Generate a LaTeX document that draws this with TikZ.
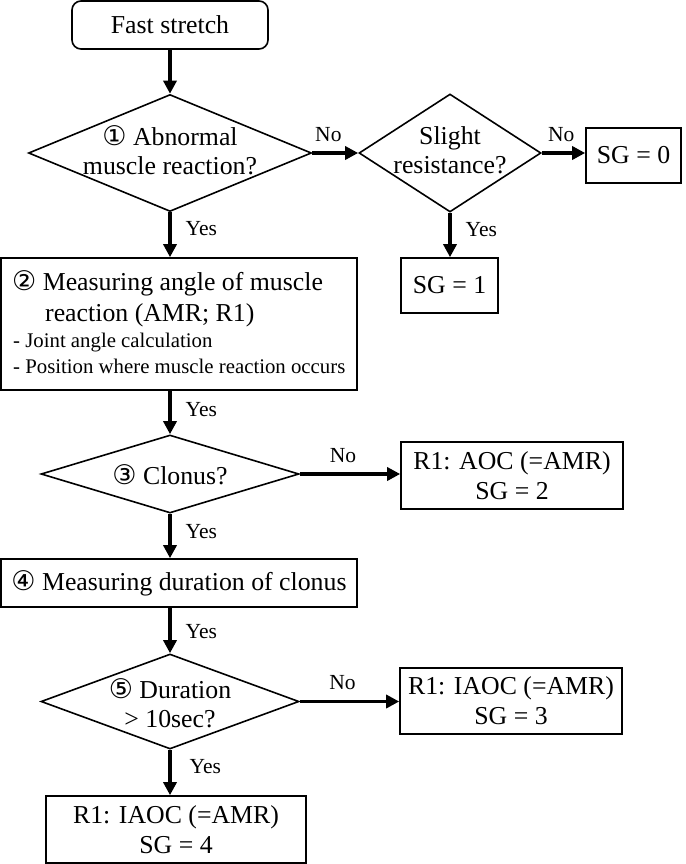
\documentclass[tikz,border=0pt]{standalone}
\usepackage{fontspec}
\setmainfont{Liberation Serif}
\newfontfamily\circf{DejaVu Sans}
\usetikzlibrary{shapes.geometric,arrows.meta}
\begin{document}
\begin{tikzpicture}[x=1pt,y=-1pt,
 box/.style={draw, line width=1.6pt, inner sep=0pt, font=\fontsize{25.8}{30}\selectfont, align=center},
 dia/.style={draw, diamond, line width=1.6pt, inner sep=0pt},
 txt/.style={inner sep=0pt, font=\fontsize{25.8}{28.5}\selectfont, align=center},
 bul/.style={inner sep=0pt, font=\fontsize{20.8}{24}\selectfont},
 arr/.style={line width=3.4pt, -{Triangle[length=13pt,width=13pt]}},
 lab/.style={inner sep=0pt, font=\fontsize{21.5}{24}\selectfont},
 yeslab/.style={lab, anchor=west, xshift=14pt},
 nolab/.style={lab, anchor=south, yshift=10pt}]
\useasboundingbox (0,0) rectangle (685,864);
\newcommand{\cn}[1]{{\circf\fontsize{27}{28}\selectfont #1}}
% nodes
\node[box, rounded corners=9pt, minimum width=196pt, minimum height=48pt] (fs) at (170,25) {Fast stretch};
\node[dia, minimum width=283pt, minimum height=117pt] (d1) at (170,153) {};
\node[txt] (d1t) at (170,150) {\cn{①} Abnormal\\muscle reaction?};
\node[dia, minimum width=182pt, minimum height=118pt] (d2) at (450,153) {};
\node[txt] (d2t) at (450,150) {Slight\\resistance?};
\node[box, minimum width=95pt, minimum height=55pt] (sg0) at (633.5,155.5) {SG = 0};
\node[box, minimum width=97pt, minimum height=55pt] (sg1) at (449.5,285.5) {SG = 1};
\node[box, minimum width=356pt, minimum height=132pt] (b2) at (179,324) {};
\node[txt, anchor=base west] (b2a) at (12,290) {\cn{②} Measuring angle of muscle};
\node[txt, anchor=base west] (b2b) at (45,321) {reaction (AMR; R1)};
\node[bul, anchor=base west] (b2c) at (13,347) {- Joint angle calculation};
\node[bul, anchor=base west] (b2d) at (13,373) {- Position where muscle reaction occurs};
\node[dia, minimum width=258pt, minimum height=78pt] (d3) at (170,474) {};
\node[txt] (d3t) at (170,475) {\cn{③} Clonus?};
\node[box, minimum width=222pt, minimum height=67pt] (sg2) at (512,475.5) {R1: AOC (=AMR)\\SG = 2};
\node[box, minimum width=356pt, minimum height=48pt] (b4) at (179,583) {\cn{④} Measuring duration of clonus};
\node[dia, minimum width=258pt, minimum height=95pt] (d5) at (170,701.5) {};
\node[txt] (d5t) at (170,703) {\cn{⑤} Duration\\> 10sec?};
\node[box, minimum width=222pt, minimum height=66pt] (sg3) at (511,701) {R1: IAOC (=AMR)\\SG = 3};
\node[box, minimum width=260pt, minimum height=67pt] (sg4) at (176,829.5) {R1: IAOC (=AMR)\\SG = 4};
% connectors
\draw[arr] (fs.south -| d1.north) -- (d1.north);
\draw[arr] (d1.east) -- node[nolab, pos=0.35] (n1) {No} (d2.west);
\draw[arr] (d2.east) -- node[nolab, pos=0.45] (n2) {No} (d2.east -| sg0.west);
\draw[arr] (d2.south) -- node[yeslab, pos=0.37] (y2) {Yes} (d2.south |- sg1.north);
\draw[arr] (d1.south) -- node[yeslab, pos=0.37] (y1) {Yes} (d1.south |- b2.north);
\draw[arr] (d3.north |- b2.south) -- node[yeslab, pos=0.44] (y3) {Yes} (d3.north);
\draw[arr] (d3.east) -- node[nolab, pos=0.43] (n3) {No} (d3.east -| sg2.west);
\draw[arr] (d3.south) -- node[yeslab, pos=0.39] (y4) {Yes} (d3.south |- b4.north);
\draw[arr] (d5.north |- b4.south) -- node[yeslab, pos=0.53] (y5) {Yes} (d5.north);
\draw[arr] (d5.east) -- node[nolab, pos=0.43] (n5) {No} (d5.east -| sg3.west);
\draw[arr] (d5.south) -- node[yeslab, pos=0.38, xshift=4pt] (y6) {Yes} (d5.south |- sg4.north);
\end{tikzpicture}
\end{document}
